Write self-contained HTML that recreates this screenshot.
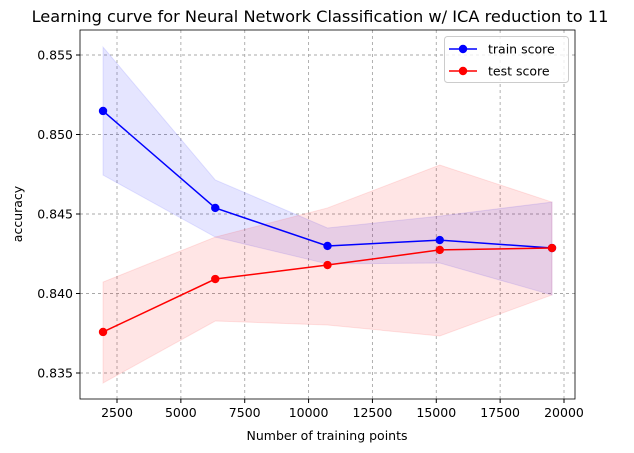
<!DOCTYPE html>
<html><head><meta charset="utf-8"><style>body{margin:0;background:#fff}svg{display:block;font-family:"DejaVu Sans","Liberation Sans",sans-serif}</style></head>
<body>
<svg id="c" width="634" height="453"></svg>
<script>
const trainSizes=[1953,6347,10741,15136,19530];
const trainMean=[0.85148,0.84538,0.84299,0.84336,0.84286];
const trainUpper=[0.8555,0.84714,0.84412,0.84487,0.84575];
const trainLower=[0.84745,0.84355,0.84186,0.84192,0.83991];
const testMean=[0.83758,0.84091,0.84179,0.84274,0.84286];
const testUpper=[0.84072,0.84355,0.84538,0.84808,0.84575];
const testLower=[0.83437,0.83827,0.83802,0.83733,0.83991];
const xTicks=[2500,5000,7500,10000,12500,15000,17500,20000];
const yTicks=[0.835,0.840,0.845,0.850,0.855];
const L=80,R=575,T=30,B=399;
const sx=v=>117+(v-2500)*447/17500;
const sy=v=>55+(0.855-v)*15900;
const svg=document.getElementById('c');const NS='http://www.w3.org/2000/svg';
function mk(t,a,p){const e=document.createElementNS(NS,t);for(const k in a)e.setAttribute(k,a[k]);(p||svg).appendChild(e);return e;}
xTicks.forEach(v=>{const x=sx(v);
const g=mk('line',{x1:x,x2:x,y1:T,y2:B,stroke:'#a8a8a8','stroke-dasharray':'3,3','stroke-width':0.9});

mk('line',{x1:x,x2:x,y1:B,y2:B+4,stroke:'#000'});
const t=mk('text',{x:x,y:B+18,'text-anchor':'middle','font-size':12.5});t.textContent=v;
});
yTicks.forEach(v=>{const y=sy(v);
const g=mk('line',{x1:L,x2:R,y1:y,y2:y,stroke:'#a8a8a8','stroke-dasharray':'3,3','stroke-width':0.9});

mk('line',{x1:L-4,x2:L,y1:y,y2:y,stroke:'#000'});
const t=mk('text',{x:L-7,y:y+4.5,'text-anchor':'end','font-size':12.5});t.textContent=v.toFixed(3);
});
function band(up,lo,col,name){const pts=trainSizes.map((s,i)=>sx(s)+','+sy(up[i])).concat(trainSizes.map((s,i)=>sx(s)+','+sy(lo[i])).reverse());
const p=mk('polygon',{points:pts.join(' '),fill:col,'fill-opacity':0.1,stroke:col,'stroke-opacity':0.1});
}
band(trainUpper,trainLower,'#0000ff','train-score-band');
band(testUpper,testLower,'#ff0000','test-score-band');
function series(m,col,name){const p=mk('polyline',{points:trainSizes.map((s,i)=>sx(s)+','+sy(m[i])).join(' '),fill:'none',stroke:col,'stroke-width':1.5});

trainSizes.forEach((s,i)=>{const c=mk('circle',{cx:sx(s),cy:sy(m[i]),r:4.2,fill:col});
});}
series(trainMean,'#0000ff','train-score');
series(testMean,'#ff0000','test-score');
const fr=mk('rect',{x:L,y:T,width:R-L,height:B-T,fill:'none',stroke:'#000','stroke-width':0.8});

const ti=mk('text',{x:320,y:22,'text-anchor':'middle','font-size':16.2});ti.textContent='Learning curve for Neural Network Classification w/ ICA reduction to 11';

const xl=mk('text',{x:327,y:440,'text-anchor':'middle','font-size':12.5});xl.textContent='Number of training points';

const yl=mk('text',{x:22,y:214,'text-anchor':'middle','font-size':12.5,transform:'rotate(-90 22 214)'});yl.textContent='accuracy';

const lg=mk('g',{});
mk('rect',{x:444.5,y:36.5,width:124,height:46,rx:3,fill:'#fff','fill-opacity':0.8,stroke:'#ccc'},lg);
[['train score','#0000ff',49],['test score','#ff0000',71]].forEach(([n,c,y])=>{
const e=mk('g',{},lg);
mk('line',{x1:449,x2:477,y1:y,y2:y,stroke:c,'stroke-width':1.5},e);
mk('circle',{cx:463,cy:y,r:4.2,fill:c},e);
const t=mk('text',{x:488,y:y+4.5,'font-size':12.5},e);t.textContent=n;});
</script>
</body></html>
